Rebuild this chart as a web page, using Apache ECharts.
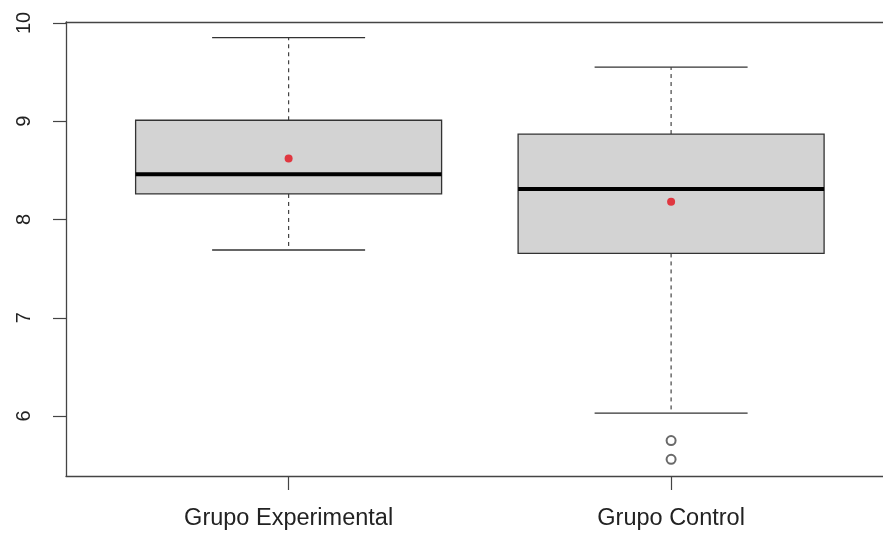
<!DOCTYPE html>
<html>
<head>
<meta charset="utf-8">
<script src="https://cdn.jsdelivr.net/npm/echarts@6/dist/echarts.min.js"></script>
<style>html,body{margin:0;padding:0;background:#fff;}#c{width:883px;height:534px;}</style>
</head>
<body>
<div id="c"></div>
<script>
const categories = ['Grupo Experimental', 'Grupo Control'];
const lowWhisker = [7.69, 6.03];
const q1 = [8.26, 7.655];
const median = [8.46, 8.31];
const q3 = [9.01, 8.87];
const highWhisker = [9.85, 9.55];
const means = [8.62, 8.18];
const outlierGroup = [2, 2];
const outlierValues = [5.75, 5.56];
const yTicks = [6, 7, 8, 9, 10];

const boxData = categories.map((c, i) => [i + 1, lowWhisker[i], q1[i], median[i], q3[i], highWhisker[i]]);
const meanData = categories.map((c, i) => [i + 1, means[i]]);
const outlierData = outlierValues.map((v, i) => [outlierGroup[i], v]);
const xTicks = categories.map((c, i) => i + 1);

const chart = echarts.init(document.getElementById('c'), null, {renderer: 'canvas'});
const font = "'Liberation Sans', Arial, sans-serif";
const axisColor = '#444';

chart.setOption({
  animation: false,
  backgroundColor: '#fff',
  grid: {left: 66, right: 0, top: 22, bottom: 58, containLabel: false},
  xAxis: [{
    type: 'value', min: 0.418, max: 2.554,
    axisLine: {show: true, onZero: false, lineStyle: {color: axisColor, width: 1.3}},
    axisTick: {show: true, length: 14, customValues: xTicks, lineStyle: {color: axisColor, width: 1.2}},
    axisLabel: {show: true, customValues: xTicks, margin: 31, fontSize: 23.5, fontFamily: font, color: '#222',
      formatter: v => categories[Math.round(v) - 1] || ''},
    splitLine: {show: false}
  }, {
    type: 'value', position: 'top', min: 0.418, max: 2.554,
    axisLine: {show: true, onZero: false, lineStyle: {color: axisColor, width: 1.3}},
    axisTick: {show: false}, axisLabel: {show: false}, splitLine: {show: false}
  }],
  yAxis: {
    type: 'value', min: 5.39, max: 10.01,
    axisLine: {show: true, onZero: false, lineStyle: {color: axisColor, width: 1.3}},
    axisTick: {show: true, length: 13, customValues: yTicks, lineStyle: {color: axisColor, width: 1.2}},
    axisLabel: {show: true, customValues: yTicks, rotate: 90, margin: 32, fontSize: 20, fontFamily: font, color: '#222'},
    splitLine: {show: false}
  },
  series: [{
    type: 'custom',
    xAxisIndex: 0,
    data: boxData,
    encode: {x: 0, y: [1, 2, 3, 4, 5]},
    renderItem: function (params, api) {
      const x = api.value(0);
      const pLo = api.coord([x, api.value(1)]);
      const pQ1 = api.coord([x, api.value(2)]);
      const pMed = api.coord([x, api.value(3)]);
      const pQ3 = api.coord([x, api.value(4)]);
      const pHi = api.coord([x, api.value(5)]);
      const hb = api.size([0.4, 0])[0];
      const hc = api.size([0.2, 0])[0];
      const cx = pMed[0];
      const dashStyle = {stroke: '#444', lineWidth: 1.2, lineDash: [4, 4]};
      const capStyle = {stroke: '#333', lineWidth: 1.3};
      return {
        type: 'group',
        children: [
          {type: 'line', shape: {x1: cx, y1: pQ3[1], x2: cx, y2: pHi[1]}, style: dashStyle},
          {type: 'line', shape: {x1: cx, y1: pQ1[1], x2: cx, y2: pLo[1]}, style: dashStyle},
          {type: 'line', shape: {x1: cx - hc, y1: pHi[1], x2: cx + hc, y2: pHi[1]}, style: capStyle},
          {type: 'line', shape: {x1: cx - hc, y1: pLo[1], x2: cx + hc, y2: pLo[1]}, style: capStyle},
          {type: 'rect', shape: {x: cx - hb, y: pQ3[1], width: 2 * hb, height: pQ1[1] - pQ3[1]},
            style: {fill: '#d3d3d3', stroke: '#333', lineWidth: 1.3}},
          {type: 'line', shape: {x1: cx - hb, y1: pMed[1], x2: cx + hb, y2: pMed[1]},
            style: {stroke: '#000', lineWidth: 4}}
        ]
      };
    },
    z: 2
  }, {
    type: 'scatter',
    data: outlierData,
    symbol: 'emptyCircle',
    symbolSize: 9,
    itemStyle: {color: '#444', borderColor: '#444', borderWidth: 1.1},
    z: 3
  }, {
    type: 'scatter',
    data: meanData,
    symbol: 'circle',
    symbolSize: 8,
    itemStyle: {color: '#e3101c'},
    z: 4
  }]
});
</script>
</body>
</html>
